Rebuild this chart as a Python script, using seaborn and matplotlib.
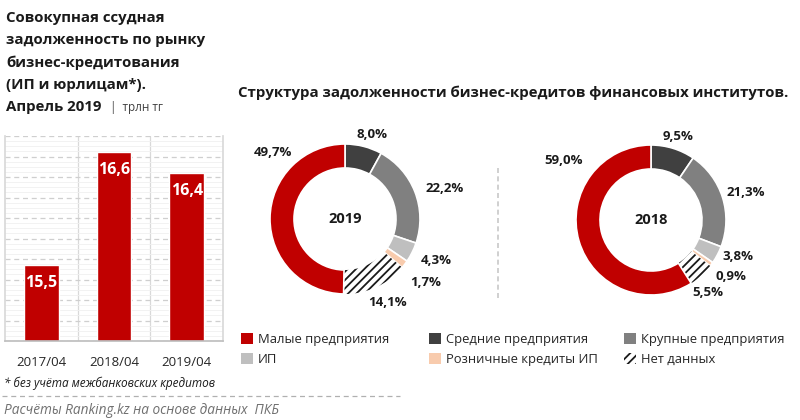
import numpy as np
import pandas as pd
import seaborn as sns
import matplotlib.pyplot as plt
from matplotlib.patches import Patch
from matplotlib.lines import Line2D

# Data
periods = ['2017/04', '2018/04', '2019/04']
debt = [15.5, 16.6, 16.4]

segments = ['Средние предприятия', 'Крупные предприятия', 'ИП',
            'Розничные кредиты ИП', 'Нет данных', 'Малые предприятия']
share_2019 = [8.0, 22.2, 4.3, 1.7, 14.1, 49.7]
share_2018 = [9.5, 21.3, 3.8, 0.9, 5.5, 59.0]

sns.set_theme(style='white')
plt.rcParams['font.family'] = ['Open Sans', 'DejaVu Sans']
plt.rcParams['hatch.linewidth'] = 1.3

RED = '#C00000'
seg_colors = ['#404040', '#808080', '#BFBFBF', '#F8CBAD', 'white', RED]
TXT = '#1a1a1a'

W, H = 800, 420
fig = plt.figure(figsize=(8, 4.2), dpi=100)


def px_axes(x0, y0, x1, y1):
    # axes placed by pixel box (top-left origin)
    return fig.add_axes([x0 / W, 1 - y1 / H, (x1 - x0) / W, (y1 - y0) / H])


# ---- left: bar chart ----
title_lines = ['Совокупная ссудная', 'задолженность по рынку',
               'бизнес-кредитования', '(ИП и юрлицам*).', 'Апрель 2019']
for k, line in enumerate(title_lines):
    fig.text(6 / W, 1 - (18 + 22.2 * k) / H, line, ha='left', va='center',
             fontsize=10.8, fontweight='bold', color=TXT)
fig.text(110 / W, 1 - 108 / H, '|  трлн тг', ha='left', va='center',
         fontsize=8.5, color='#404040')

ax = px_axes(5, 136, 223, 341)
df = pd.DataFrame({'period': periods, 'debt': debt})
sns.barplot(data=df, x='period', y='debt', color=RED, width=0.48,
            saturation=1, ax=ax)
ymin, ymax = 14.76, 16.76
ax.set_ylim(ymin, ymax)
ax.set_xlim(-0.5, 2.5)
ax.set_yticks(np.arange(ymin, ymax + 0.01, 0.2))
ax.set_yticks(np.arange(ymin, ymax + 0.01, 0.05), minor=True)
ax.yaxis.grid(True, which='major', ls=(0, (4, 3)), color='#cfcfcf', lw=0.9)
ax.yaxis.grid(True, which='minor', ls='-', color='#f0f0f0', lw=0.6)
ax.set_axisbelow(True)
for xv in [0.5, 1.5]:
    ax.axvline(xv, color='#d9d9d9', lw=0.9, zorder=0)
ax.set_xlabel('')
ax.set_ylabel('')
ax.tick_params(axis='both', length=0)
ax.tick_params(axis='x', pad=11, labelsize=9.5, labelcolor='#262626')
ax.tick_params(axis='y', which='both', left=False, labelleft=False)
for s in ['left', 'right']:
    ax.spines[s].set_color('#d9d9d9')
ax.spines['top'].set_visible(False)
ax.spines['bottom'].set_color('#bfbfbf')
for i, v in enumerate(debt):
    ax.annotate(f'{v:.1f}'.replace('.', ','), (i, v), xytext=(0, -18),
                textcoords='offset pixels', ha='center', va='center',
                color='white', fontsize=11.5, fontweight='bold')

# ---- right: donuts ----
fig.text(238 / W, 1 - 93 / H,
         'Структура задолженности бизнес-кредитов финансовых институтов.',
         ha='left', va='center', fontsize=10.8, fontweight='bold', color=TXT)

R_PX = 75
# label offsets from donut centre, in pixels (right, up)
lab_2019 = [(27, 84), (100, 30), (91, -41), (81, -63), (43, -84), (-72, 66)]
lab_2018 = [(27, 83), (95, 28), (87, -37), (80, -57), (57, -72), (-87, 60)]


def donut(cx, cy, shares, year, lab_off):
    half = 1.7
    ax = px_axes(cx - half * R_PX, cy - half * R_PX, cx + half * R_PX, cy + half * R_PX)
    wedges, _ = ax.pie(shares, colors=seg_colors, startangle=90, counterclock=False,
                       radius=1, wedgeprops=dict(width=0.32, edgecolor='white', linewidth=1.2))
    hw = wedges[4]
    hw.set_hatch('////')
    hw.set_edgecolor('#1a1a1a')
    hw.set_linewidth(0)
    ax.set_xlim(-half, half)
    ax.set_ylim(-half, half)
    ax.set_aspect('equal')
    ax.axis('off')
    ax.text(0, 0, year, ha='center', va='center', fontsize=10.5,
            fontweight='bold', color=TXT)
    for v, (dx, dy) in zip(shares, lab_off):
        lab = f'{v:.1f}%'.replace('.', ',')
        ax.text(dx / R_PX, dy / R_PX, lab, ha='center', va='center',
                fontsize=9.5, fontweight='bold', color=TXT)


donut(345, 219, share_2019, '2019', lab_2019)
donut(651, 220, share_2018, '2018', lab_2018)

fig.add_artist(Line2D([498 / W, 498 / W], [1 - 168 / H, 1 - 298 / H],
                      color='#c8c8c8', lw=1.2, ls=(0, (3, 2))))

# legend: three columns of two entries each
legend_cols = [
    (241, [('Малые предприятия', Patch(facecolor=RED, edgecolor='none')),
           ('ИП', Patch(facecolor='#BFBFBF', edgecolor='none'))]),
    (429, [('Средние предприятия', Patch(facecolor='#404040', edgecolor='none')),
           ('Розничные кредиты ИП', Patch(facecolor='#F8CBAD', edgecolor='none'))]),
    (624, [('Крупные предприятия', Patch(facecolor='#808080', edgecolor='none')),
           ('Нет данных', Patch(facecolor='white', edgecolor='#1a1a1a',
                                hatch='////', linewidth=0))]),
]
for x0, items in legend_cols:
    fig.legend([h for _, h in items], [t for t, _ in items],
               loc='upper left', bbox_to_anchor=(x0 / W, 1 - 333 / H),
               frameon=False, fontsize=9.4, handlelength=0.95, handleheight=0.95,
               handletextpad=0.35, labelspacing=0.5,
               borderaxespad=0, borderpad=0, labelcolor='#262626')

# footnotes
fig.text(4 / W, 1 - 383 / H, '* без учёта межбанковских кредитов', ha='left',
         va='center', fontsize=8.5, style='italic', color=TXT)
fig.add_artist(Line2D([2 / W, 400 / W], [1 - 396 / H, 1 - 396 / H],
                      color='#b0b0b0', lw=0.9, ls=(0, (4, 3))))
fig.text(4 / W, 1 - 410 / H, 'Расчёты Ranking.kz на основе данных  ПКБ',
         ha='left', va='center', fontsize=9.8, style='italic', color='#707070')

fig.savefig('out.png', dpi=100, facecolor='white')
